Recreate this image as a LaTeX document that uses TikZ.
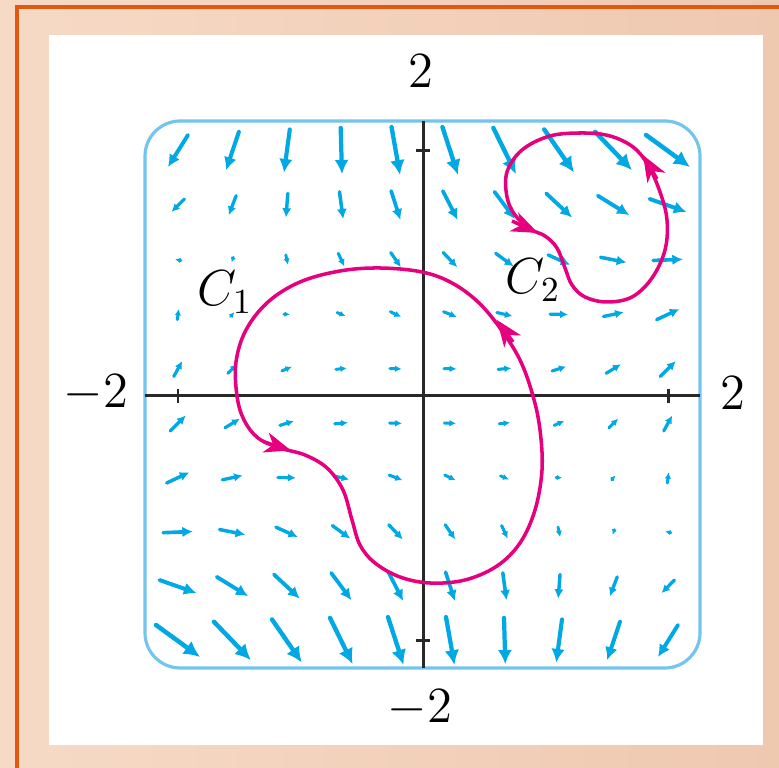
\documentclass[tikz,border=0pt]{standalone}
\usetikzlibrary{arrows.meta}
\definecolor{fieldblue}{RGB}{0,168,228}
\definecolor{boxblue}{RGB}{115,196,238}
\definecolor{curvepink}{RGB}{230,0,126}
\definecolor{peach}{RGB}{246,218,198}
\definecolor{peachdark}{RGB}{239,200,176}
\definecolor{framered}{RGB}{226,88,16}
\definecolor{axisgray}{RGB}{40,40,40}
\begin{document}
\begin{tikzpicture}[x=0.01cm, y=-0.01cm,
  fieldarrow/.style={fieldblue, line cap=round},
  curve/.style={curvepink, line width=1pt},
  curvetip/.style={curvepink, line width=1pt, -{Stealth[length=7.5pt,width=5.8pt,inset=2.2pt]}},
  axisline/.style={axisgray, line width=0.85pt},
  lab/.style={font=\fontsize{14.5}{17}\selectfont, inner sep=0pt}]
\useasboundingbox (0,0) rectangle (779,768);
\shade[left color=peach, right color=peachdark] (0,0) rectangle (779,768);
\draw[framered, line width=0.9pt] (17,768) -- (17,7) -- (779,7);
\fill[white] (49,35) rectangle (763,745);
\draw[boxblue, line width=0.9pt, rounded corners=10pt] (145,121) rectangle (700,668);
% vector field F = (2xy+3, x^2-3y^2)
\foreach \i in {0,...,9}{
  \foreach \j in {0,...,9}{
    \pgfmathsetmacro\X{-2+4*\i/9}
    \pgfmathsetmacro\Y{-2+4*\j/9}
    \pgfmathsetmacro\cx{423+122.5*\X}
    \pgfmathsetmacro\cy{396-122.5*\Y}
    \pgfmathsetmacro\P{4*(2*\X*\Y+3)}
    \pgfmathsetmacro\Q{4*(\X*\X-3*\Y*\Y)}
    \pgfmathsetmacro\L{sqrt((\P)*(\P)+(\Q)*(\Q))}
    \pgfmathsetmacro\hl{(4+0.22*\L)*0.2845}
    \pgfmathsetmacro\hw{(4+0.22*\L)*0.2845}
    \pgfmathsetmacro\lw{(2.6+0.035*\L)*0.2845}
    \pgfmathsetmacro\xa{\cx-0.5*(\P)}
    \pgfmathsetmacro\ya{\cy+0.5*(\Q)}
    \pgfmathsetmacro\xb{\cx+0.5*(\P)}
    \pgfmathsetmacro\yb{\cy-0.5*(\Q)}
    \draw[fieldarrow, line width=\lw pt, -{Latex[length=\hl pt, width=\hw pt]}] (\xa,\ya) -- (\xb,\yb);
  }
}
% axes
\coordinate (xl) at (145,396);
\coordinate (xr) at (700,396);
\coordinate (yt) at (423,121);
\coordinate (yb) at (423,668);
\draw[axisline] (xl) -- (xr);
\draw[axisline] (yt) -- (yb);
\draw[axisline] (178,389) -- (178,403);
\draw[axisline] (668,389) -- (668,403);
\draw[axisline] (416,151) -- (430,151);
\draw[axisline] (416,641) -- (430,641);
% curve C1
\draw[curve] plot[smooth cycle, tension=0.6] coordinates {
 (422,272) (380,268) (340,271) (300,282) (268,302) (246,330) (236,362)
 (237,396) (244,420) (258,438) (280,448) (305,455) (327,468) (343,490)
 (352,520) (360,545) (375,563) (400,577) (430,583) (465,580) (497,566)
 (520,543) (535,510) (542,470) (540,430) (533,396) (520,360) (500,328)
 (478,302) (452,283)};
% curve C2
\draw[curve] plot[smooth cycle, tension=0.6] coordinates {
 (583,133) (550,136) (522,150) (507,172) (507,197) (515,215) (530,229)
 (545,236) (557,248) (565,268) (572,285) (585,297) (607,302) (632,297)
 (652,278) (665,250) (667,220) (660,192) (648,165) (633,147) (610,136)};
% arrowheads
\draw[curvetip] (264,442) -- (291,450.5);
\draw[curvetip] (513,342) -- (497,320);
\draw[curvetip] (512,221) -- (538,233);
\draw[curvetip] (657,179) -- (643,155);
% labels
\node[lab] (top2) at (421,71) {$2$};
\node[lab] (bot2) at (420,708) {$-2$};
\node[lab] (left2) at (96,393) {$-2$};
\node[lab] (right2) at (733,393) {$2$};
\node[lab] (c1) at (225,292) {$C_1$};
\node[lab] (c2) at (533,280) {$C_2$};
\end{tikzpicture}
\end{document}
